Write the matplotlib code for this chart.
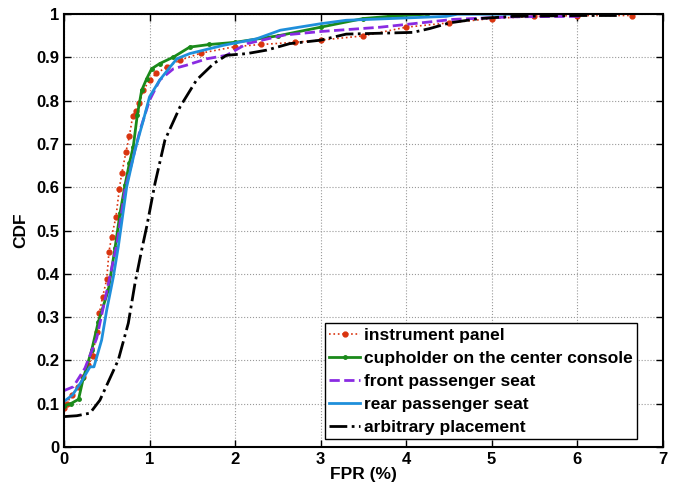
import matplotlib
matplotlib.use('Agg')
import matplotlib.pyplot as plt

plt.rcParams['font.family'] = ['Liberation Sans', 'DejaVu Sans']
plt.rcParams['font.weight'] = 'bold'

# instrument panel
panel_x = [0.0, 0.03, 0.09, 0.168, 0.226, 0.285, 0.335, 0.382, 0.413, 0.452, 0.499, 0.526,
           0.557, 0.608, 0.647, 0.675, 0.725, 0.764, 0.803, 0.842, 0.881, 0.928, 1.0, 1.08,
           1.2, 1.36, 1.6, 2.0, 2.3, 2.7, 3.0, 3.5, 4.0, 4.5, 5.0, 5.5, 6.0, 6.64]
panel_y = [0.09, 0.10, 0.12, 0.139, 0.162, 0.189, 0.21, 0.266, 0.309, 0.347, 0.387, 0.451,
           0.486, 0.532, 0.597, 0.632, 0.682, 0.718, 0.764, 0.777, 0.794, 0.824, 0.848, 0.863,
           0.878, 0.894, 0.91, 0.925, 0.93, 0.935, 0.94, 0.95, 0.97, 0.98, 0.99, 0.995, 0.997, 0.997]

# cupholder on the center console
cup_x = [0.0, 0.08, 0.17, 0.226, 0.324, 0.401, 0.518, 0.596, 0.655, 0.713, 0.764, 0.81,
         0.857, 0.908, 0.967, 1.025, 1.12, 1.28, 1.47, 1.7, 2.0, 2.5, 3.0, 3.5, 3.8, 4.24]
cup_y = [0.095, 0.10, 0.11, 0.159, 0.224, 0.289, 0.362, 0.459, 0.54, 0.605, 0.655, 0.694,
         0.767, 0.824, 0.851, 0.874, 0.886, 0.901, 0.924, 0.93, 0.935, 0.95, 0.97, 0.99, 0.995, 1.0]

# front passenger seat
front_x = [0.0, 0.109, 0.245, 0.382, 0.5, 0.62, 0.713, 0.889, 1.0, 1.12, 1.28, 1.43, 1.67,
           1.9, 2.14, 2.58, 3.0, 3.7, 4.55, 5.25, 6.03]
front_y = [0.13, 0.139, 0.182, 0.251, 0.36, 0.47, 0.594, 0.732, 0.801, 0.848, 0.874, 0.882,
           0.897, 0.905, 0.932, 0.952, 0.96, 0.97, 0.988, 0.994, 0.995]

# rear passenger seat
rear_x = [0.0, 0.1, 0.2, 0.304, 0.35, 0.44, 0.499, 0.577, 0.635, 0.733, 0.83, 0.928, 1.0,
          1.12, 1.24, 1.32, 1.47, 1.86, 2.25, 2.53, 3.0, 3.3, 4.47, 4.6, 5.3]
rear_y = [0.105, 0.12, 0.15, 0.185, 0.185, 0.247, 0.316, 0.393, 0.463, 0.601, 0.686, 0.755,
          0.809, 0.848, 0.878, 0.897, 0.909, 0.928, 0.943, 0.963, 0.978, 0.986, 0.995, 1.0, 1.0]

# arbitrary placement
arb_x = [0.0, 0.15, 0.304, 0.42, 0.538, 0.635, 0.752, 0.83, 0.908, 0.967, 1.064, 1.18,
         1.357, 1.55, 1.75, 1.9, 2.14, 2.37, 2.64, 3.0, 3.3, 4.08, 4.28, 4.51, 4.86, 5.25, 6.0, 6.5]
arb_y = [0.07, 0.072, 0.078, 0.108, 0.159, 0.201, 0.286, 0.378, 0.455, 0.509, 0.609, 0.709,
         0.786, 0.848, 0.886, 0.905, 0.909, 0.917, 0.932, 0.94, 0.954, 0.958, 0.967, 0.98,
         0.99, 0.995, 0.997, 0.997]

fig = plt.figure(figsize=(6.81, 4.9), dpi=100)
ax = fig.add_axes([0.094, 0.088, 0.879, 0.883])

ax.plot(panel_x, panel_y, ':', color='#d9340f', lw=1.2, marker='o', ms=3.5,
        markeredgecolor='#d9340f', label='instrument panel')
ax.plot(cup_x, cup_y, '-', color='#1a8a1a', lw=2, marker='o', ms=2.5,
        label='cupholder on the center console')
ax.plot(front_x, front_y, '--', color='#8a2be2', lw=2, label='front passenger seat')
ax.plot(rear_x, rear_y, '-', color='#1f8fdb', lw=2, label='rear passenger seat')
ax.plot(arb_x, arb_y, '-.', color='black', lw=2, label='arbitrary placement')

ax.set_xlim(0, 7)
ax.set_ylim(0, 1)
ax.set_xticks(range(0, 8))
ax.set_yticks([i / 10 for i in range(11)])
ax.set_yticklabels(['0', '0.1', '0.2', '0.3', '0.4', '0.5', '0.6', '0.7', '0.8', '0.9', '1'])
ax.tick_params(direction='in', top=True, right=True, labelsize=12, length=5, width=1)
ax.grid(True, linestyle=':', color='#999999', lw=0.8)
for s in ax.spines.values():
    s.set_linewidth(1.5)

ax.set_xlabel('FPR (%)', fontsize=12.5, fontweight='bold', labelpad=0)
ax.set_ylabel('CDF', fontsize=12.5, fontweight='bold', labelpad=6)

leg = ax.legend(loc='lower right', bbox_to_anchor=(0.957, 0.018),
                prop={'weight': 'bold', 'size': 12.5},
                handlelength=1.8, handletextpad=0.2, borderpad=0.25, labelspacing=0.45,
                fancybox=False, framealpha=1, edgecolor='black', borderaxespad=0)
leg.get_frame().set_linewidth(1)

fig.savefig('out.png', dpi=100)
